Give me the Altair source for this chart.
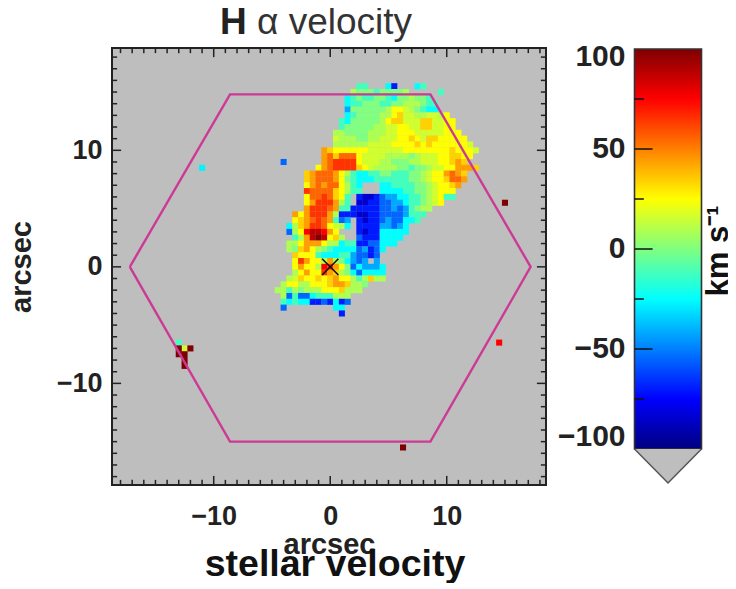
import altair as alt
import pandas as pd

# velocity levels for the map cells (km/s)
LEVELS = {"N": -84, "B": -70, "Z": -55, "L": -42, "C": -25, "Q": -12, "G": 0, "l": 9, "y": 16,
          "Y": 25, "O": 34, "o": 44, "d": 55, "R": 65, "r": 75, "D": 88, "M": 100}

# (row index r: y = r*0.5 arcsec), first column c: x = c*0.5 arcsec, cells
MAP_ROWS = [
    (31, 5, "QQ...CB...CQ"),
    (30, 4, "lGGGQGGGGl.....Q"),
    (29, 3, "CQGQQGGQCGGlGGQ"),
    (28, 3, "CQQGGGQQGGlllGQQ"),
    (27, 3, "LGGGGGGlYYylGQCC"),
    (26, 3, "CQGGGGllYOyyllyylY"),
    (25, 2, "QCGGGGGlYOOyyyOOyyYY"),
    (24, 2, "QGGGGGllyyYYyyOOyyYY"),
    (23, 1, "llGGGGlllyyYYYyyyyyYYY"),
    (22, 1, "ylllGGllyyyYYOYyOOYYYYY"),
    (21, 1, "llllllyyyyYYYYOYOYYYYYYy"),
    (20, -1, "oOYYYYYYyyyyyyYYYYYYYYOYYYy"),
    (19, -1, "odOdddYyyyyllllGlyyyYYOOYY"),
    (18, -1, "odRRRRYyyyllGGGllyyyYYOoO"),
    (17, -2, "YodRRRROYyllllGGQGGlyyYYoooO"),
    (16, -4, "OodddoYlQCCQQGGQQQGGlyYYodoO"),
    (15, -4, "OodddoYGQCCCQQQQQQGGlyYYOddo"),
    (14, -4, "YododdYlQC...CCQQQQGGlyYYOo"),
    (13, -4, "RddddOYlQQ...CCCCQQGGlyYYY"),
    (12, -4, "YddRdOYQ.BNNBZLLCCQQGlyYQQ"),
    (11, -4, "YoRRRolQ.NNBBZZLLCQQGlyY"),
    (10, -4, "oRRRdoQQBBBBBZZLZLQGll"),
    (9, -6, "oYoRRRolBBBNNBBZZZZLQQQ"),
    (8, -6, "YOodRdoQZL.BNBBZLZZCCQ"),
    (7, -7, "ClOoRRdYylC.BBBBLLZLC"),
    (6, -7, "ZlYrDDroY...BNBBCCCCC"),
    (5, -6, "QloDMDYOl..ZBBBCCCC"),
    (4, -7, "llYoooYllCQQBBZZCCC"),
    (3, -7, "lGOoYlGQCCCCZLBZC"),
    (2, -6, "OYYYQCCCQQLZZBZ"),
    (1, -6, "YRoYYlolGCLZL.L"),
    (0, -6, "YoYYlrRoYGZCLLLC"),
    (-1, -6, "lYoYYRoOlGCZCCCC"),
    (-2, -7, "lyOYYOYOoYYlQlOll"),
    (-3, -8, "lYYllYYYOooOllG"),
    (-4, -9, "llQlGlllYYYOlll"),
    (-5, -8, "lZQZZCQQQlll"),
    (-6, -8, "QCQCCBBZBCBZ"),
    (-7, -8, "Z........CC"),
    (-8, 2, "B"),
]

# isolated pixels outside the main blob
STRAY_X = [-11.0, -4.0, 15.0, 14.5, 6.25, -13.0, -12.5, -12.0, -13.0, -13.0, -12.5, -12.5, -12.5]
STRAY_Y = [8.5, 9.0, 5.5, -6.5, -15.5, -6.5, -7.0, -7.0, -7.0, -7.5, -7.5, -8.0, -8.5]
STRAY_V = [-27, -55, 100, 75, 100, -12, 16, 100, 100, 100, 100, 100, 100]

HEX_X = [-17.2, -8.6, 8.6, 17.2, 8.6, -8.6, -17.2]
HEX_Y = [0.0, 14.8, 14.8, 0.0, -15.0, -15.0, 0.0]

X_DOMAIN = [-18.73, 18.52]
Y_DOMAIN = [-18.72, 18.78]
MAJOR = [-10, 0, 10]
MINOR = [t for t in range(-18, 19) if t not in MAJOR]

CB_TICK_MAJOR = [-50, 0, 50]
CB_TICK_MINOR = [-75, -25, 25, 75]
CB_LABELS = ["100", "50", "0", "\u221250", "\u2212100"]
CB_LABEL_POS = [96, 50, 0, -50, -94]

COLOR_DOMAIN = [-100, -75, -25, 25, 75, 100]
COLOR_RANGE = ["#00007f", "#0000ff", "#00ffff", "#ffff00", "#ff0000", "#7f0000"]
FONT = "Liberation Sans"
DARK = "#222222"

cells = []
for r, c0, s in MAP_ROWS:
    for i, ch in enumerate(s):
        if ch != ".":
            cells.append({"x": (c0 + i) * 0.5, "y": r * 0.5, "v": LEVELS[ch]})
for x, y, v in zip(STRAY_X, STRAY_Y, STRAY_V):
    cells.append({"x": x, "y": y, "v": v})
cells = pd.DataFrame(cells)
cells["x0"] = cells.x - 0.26
cells["x1"] = cells.x + 0.26
cells["y0"] = cells.y - 0.26
cells["y1"] = cells.y + 0.26

xs = alt.Scale(domain=X_DOMAIN, nice=False, zero=False)
ys = alt.Scale(domain=Y_DOMAIN, nice=False, zero=False)
cs = alt.Scale(domain=COLOR_DOMAIN, range=COLOR_RANGE, interpolate="rgb")

X_AXIS = alt.Axis(values=MAJOR, format="d", title="arcsec", tickSize=0, domain=False, grid=False,
                  labelFont=FONT, labelFontWeight="bold", labelFontSize=27, labelColor=DARK, labelPadding=18,
                  titleFont=FONT, titleFontWeight="bold", titleFontSize=29, titleColor=DARK, titlePadding=1)
Y_AXIS = alt.Axis(values=MAJOR, format="d", title="arcsec", tickSize=0, domain=False, grid=False,
                  labelFont=FONT, labelFontWeight="bold", labelFontSize=27, labelColor=DARK, labelPadding=10,
                  titleFont=FONT, titleFontWeight="bold", titleFontSize=29, titleColor=DARK, titlePadding=20)


def xq(f):
    return alt.X(f, type="quantitative", scale=xs, axis=X_AXIS)


def yq(f):
    return alt.Y(f, type="quantitative", scale=ys, axis=Y_AXIS)


map_layer = alt.Chart(cells).mark_rect(strokeWidth=0).encode(
    x=xq("x0"), x2="x1:Q", y=yq("y0"), y2="y1:Q",
    color=alt.Color("v:Q", scale=cs, legend=None),
)

hexagon = alt.Chart(pd.DataFrame({"x": HEX_X, "y": HEX_Y, "i": list(range(len(HEX_X)))})).mark_line(
    color="#cc3a94", strokeWidth=2.4, strokeJoin="miter"
).encode(x=xq("x"), y=yq("y"), order="i:O")

cross = alt.Chart(pd.DataFrame({"x": [-0.7, -0.7], "x2": [0.7, 0.7], "y": [0.7, -0.7], "y2": [-0.7, 0.7]})).mark_rule(
    color="#111111", strokeWidth=1.6
).encode(x=xq("x"), x2="x2", y=yq("y"), y2="y2")

# frame ticks on all four sides, IDL style
xl, xh, yl, yh = X_DOMAIN[0], X_DOMAIN[1], Y_DOMAIN[0], Y_DOMAIN[1]
ticks = []
for t, ln in [(t, 0.78) for t in MAJOR] + [(t, 0.44) for t in MINOR]:
    ticks.append({"x": t, "x2": t, "y": yl, "y2": yl + ln})
    ticks.append({"x": t, "x2": t, "y": yh, "y2": yh - ln})
    ticks.append({"x": xl, "x2": xl + ln, "y": t, "y2": t})
    ticks.append({"x": xh, "x2": xh - ln, "y": t, "y2": t})
tick_layer = alt.Chart(pd.DataFrame(ticks)).mark_rule(color=DARK, strokeWidth=1.5).encode(
    x=xq("x"), x2="x2", y=yq("y"), y2="y2"
)


def label(text, px, py, size, weight="bold", **kw):
    return alt.Chart(pd.DataFrame({"t": [text]})).mark_text(
        font=FONT, fontSize=size, fontWeight=weight, color=kw.pop("color", "#222222"), **kw
    ).encode(text="t:N", x=alt.value(px), y=alt.value(py))


main = alt.layer(
    map_layer, hexagon, cross, tick_layer,
    label("H", 108, -25, 37, align="left"),
    label("\u03b1 velocity", 145, -25, 37, weight="normal", align="left", color="#333333"),
    label("stellar velocity", 223, 517, 37.5, align="center", color="#111111"),
).properties(
    width=434, height=437,
    view=alt.ViewConfig(fill="#bebebe", stroke=DARK, strokeWidth=2),
)

# colour bar
cb_y = alt.Scale(domain=[-118, 100.5], nice=False, zero=False)
cb_x = alt.Scale(domain=[0, 1], nice=False, zero=False)
bar_fill = alt.Gradient(
    gradient="linear", x1=0, x2=0, y1=1, y2=0,
    stops=[alt.GradientStop(offset=(d + 100) / 200, color=c) for d, c in zip(COLOR_DOMAIN, COLOR_RANGE)],
)
frame_df = pd.DataFrame({"a": [0.0], "b": [1.0], "c": [-100.0], "d": [100.0]})
bar = alt.Chart(frame_df).mark_rect(fill=bar_fill, stroke="#333333", strokeWidth=1.6).encode(
    x=alt.X("a:Q", scale=cb_x, axis=None), x2="b:Q", y=alt.Y("c:Q", scale=cb_y, axis=None), y2="d:Q"
)
tri = alt.Chart(pd.DataFrame({"x": [0.0, 0.5, 1.0], "y": [-100.0, -117.0, -100.0], "y2": [-100.0, -100.0, -100.0]})).mark_area(
    color="#bebebe", opacity=1, line={"color": "#555555", "strokeWidth": 1.5}
).encode(x=alt.X("x:Q", scale=cb_x, axis=None), y=alt.Y("y:Q", scale=cb_y, axis=None), y2="y2:Q")
cb_ticks = pd.DataFrame(
    [{"y": t, "a": 0.0, "b": 0.27} for t in CB_TICK_MAJOR] + [{"y": t, "a": 0.0, "b": 0.14} for t in CB_TICK_MINOR]
)
cb_tick_layer = alt.Chart(cb_ticks).mark_rule(color="#111111", strokeWidth=1.5).encode(
    x=alt.X("a:Q", scale=cb_x, axis=None), x2="b:Q", y=alt.Y("y:Q", scale=cb_y, axis=None)
)
cb_labels = alt.Chart(pd.DataFrame({"t": CB_LABELS, "p": CB_LABEL_POS})).mark_text(
    font=FONT, fontSize=30, fontWeight="bold", color=DARK, align="right", baseline="middle"
).encode(text="t:N", x=alt.value(-9), y=alt.Y("p:Q", scale=cb_y, axis=None))
cb_title = label("km s\u207b\u00b9", 84, 203, 31, angle=270, align="center", baseline="middle", color="#111111")

cbar = alt.layer(bar, tri, cb_tick_layer, cb_labels, cb_title).properties(
    width=67, height=437, view=alt.ViewConfig(stroke="transparent", strokeWidth=0)
)

chart = alt.hconcat(main, cbar, spacing=88.5, bounds="flush").properties(
    padding={"left": -2, "top": -5, "right": -6, "bottom": -2}, background="white"
).resolve_scale(color="independent", x="independent", y="independent")

chart.save("out.html", embed_options={"renderer": "svg", "actions": False})
